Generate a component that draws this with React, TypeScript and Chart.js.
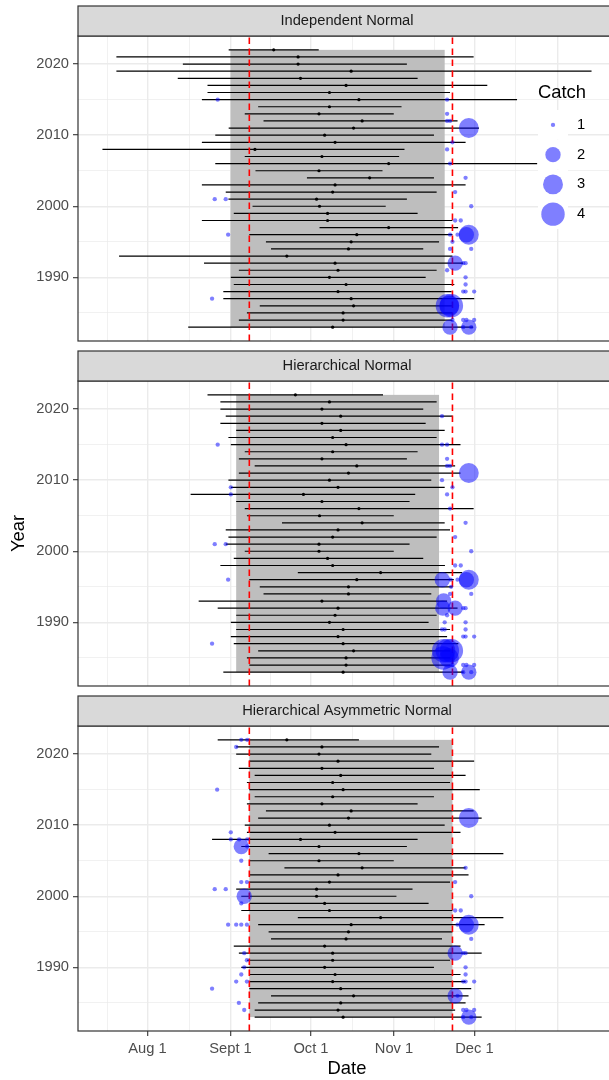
import React, { useEffect, useRef } from "react";
import { Chart, registerables } from "chart.js";

Chart.register(...registerables);

const FONT = "'Liberation Sans', Arial, Helvetica, sans-serif";
Chart.defaults.font.family = FONT;

// ---------------- data ----------------
const panelTitles = ["Independent Normal", "Hierarchical Normal", "Hierarchical Asymmetric Normal"];

const years = [
  2022, 2021, 2020, 2019, 2018, 2017, 2016, 2015, 2014, 2013,
  2012, 2011, 2010, 2009, 2008, 2007, 2006, 2005, 2004, 2003,
  2002, 2001, 2000, 1999, 1998, 1997, 1996, 1995, 1994, 1993,
  1992, 1991, 1990, 1989, 1988, 1987, 1986, 1985, 1984, 1983,
];

// days after Aug 1
const lower1 = [30.3, -11.6, 13.2, -11.6, 11.3, 22.4, 22.4, 20.3, 41.3, 36.3, 43.3, 30.3, 25.3, 20.3, -16.8, 36.3, 25.3, 40.3, 59.5, 20.3, 29.2, 30.2, 39.2, 32.2, 20.3, 64.2, 38.0, 44.2, 46.1, -10.6, 21.1, 34.1, 31.1, 32.2, 28.3, 28.3, 41.9, 37.1, 34.1, 15.2];
const median1 = [47.1, 56.2, 56.2, 76.0, 57.1, 74.1, 67.9, 78.9, 67.9, 64.0, 80.1, 76.9, 66.1, 70.0, 40.1, 65.1, 90.0, 64.0, 82.9, 70.0, 69.1, 63.1, 64.2, 67.2, 67.2, 90.0, 78.1, 76.0, 75.0, 52.0, 70.0, 71.1, 67.9, 74.1, 71.1, 76.0, 76.9, 73.0, 73.0, 69.1];
const upper1 = [63.9, 121.7, 96.8, 165.7, 100.8, 126.8, 112.9, 137.9, 94.8, 91.9, 115.7, 123.7, 106.9, 118.7, 95.9, 93.9, 145.4, 87.7, 106.9, 118.7, 107.9, 96.8, 88.9, 100.8, 113.8, 115.9, 113.8, 108.8, 102.9, 113.8, 117.8, 107.9, 103.8, 114.5, 113.5, 121.9, 113.8, 113.8, 113.8, 121.5];

const lower2 = [22.4, 27.2, 27.2, 29.2, 27.2, 33.1, 30.2, 31.1, 36.3, 34.1, 40.0, 34.1, 30.2, 31.1, 16.1, 33.1, 36.3, 37.1, 50.2, 29.2, 30.2, 29.2, 36.3, 32.2, 27.2, 56.1, 38.0, 41.9, 43.3, 19.1, 26.2, 33.1, 31.1, 33.1, 31.1, 32.2, 41.3, 37.1, 38.0, 28.3];
const median2 = [55.2, 67.9, 65.1, 72.1, 65.1, 72.1, 69.1, 74.1, 69.1, 65.1, 78.1, 75.0, 67.9, 71.1, 58.2, 65.1, 78.9, 64.2, 80.1, 71.1, 69.1, 64.0, 64.0, 67.2, 69.1, 87.0, 78.1, 75.0, 75.0, 65.1, 71.1, 70.0, 67.9, 73.0, 71.1, 73.0, 76.9, 74.1, 74.1, 73.0];
const upper2 = [87.9, 107.9, 102.9, 113.8, 103.8, 110.9, 107.9, 116.8, 100.8, 96.8, 114.8, 116.8, 105.9, 110.9, 99.9, 97.8, 121.7, 91.9, 110.9, 112.9, 107.9, 97.8, 91.9, 102.9, 111.0, 117.4, 114.3, 113.8, 105.9, 111.8, 115.7, 107.9, 104.9, 112.9, 111.8, 116.0, 113.0, 113.0, 113.0, 118.0];

const lower3 = [26.2, 33.1, 33.1, 38.0, 34.1, 40.0, 37.1, 38.0, 40.0, 37.1, 44.2, 41.3, 36.3, 37.1, 24.1, 35.0, 45.2, 38.0, 51.1, 38.0, 38.0, 33.1, 35.0, 38.0, 35.0, 56.1, 41.3, 45.2, 46.1, 32.2, 34.1, 37.1, 35.0, 38.0, 38.0, 38.0, 46.1, 41.3, 40.0, 40.0];
const median3 = [52.0, 65.1, 64.0, 71.1, 65.1, 72.1, 69.1, 73.0, 69.1, 65.1, 76.0, 75.0, 67.9, 70.0, 57.1, 64.0, 78.9, 64.0, 80.1, 71.1, 67.9, 63.1, 63.1, 66.1, 67.9, 87.0, 76.0, 75.0, 74.1, 66.1, 69.1, 69.1, 66.1, 70.0, 69.1, 72.1, 76.9, 72.1, 71.1, 73.0];
const upper3 = [78.9, 108.8, 105.9, 121.9, 106.9, 118.7, 112.9, 124.0, 106.9, 100.8, 121.7, 124.7, 110.9, 116.8, 100.8, 96.8, 132.8, 91.9, 118.7, 119.8, 112.9, 98.9, 92.9, 104.9, 113.8, 132.8, 125.8, 113.8, 109.9, 116.8, 124.7, 112.9, 106.9, 116.8, 118.7, 120.8, 119.8, 118.7, 114.8, 124.7];

// season window (grey band) per panel
const windowStart = [31.0, 33.1, 38.0];
const windowEnd = [110.9, 108.8, 113.8];
// red dashed reference dates
const refDays = [38.0, 113.8];

// catches shown per panel
const catchYear1 = [2015, 2015, 2013, 2012, 2012, 2011, 2009, 2008, 2006, 2004, 2002, 2001, 2001, 2000, 1998, 1998, 1996, 1996, 1996, 1996, 1996, 1995, 1994, 1994, 1992, 1992, 1992, 1991, 1990, 1989, 1988, 1988, 1988, 1987, 1986, 1986, 1986, 1984, 1984, 1984, 1984, 1983, 1983, 1983, 1983];
const catchDay1 = [26.2, 111.8, 111.8, 111.8, 112.9, 119.9, 113.8, 111.8, 112.9, 118.7, 114.8, 25.1, 29.2, 120.8, 114.8, 116.9, 30.1, 112.9, 115.7, 119.0, 119.9, 113.8, 112.9, 120.8, 114.8, 117.8, 118.7, 111.8, 118.7, 118.7, 117.8, 118.7, 121.9, 24.1, 111.9, 113.4, 112.6, 113.8, 117.8, 119.0, 121.9, 112.9, 117.8, 119.9, 120.8];
const catchCount1 = [1, 1, 1, 1, 1, 3, 1, 1, 1, 1, 1, 1, 1, 1, 1, 1, 1, 1, 1, 2, 3, 1, 1, 1, 2, 1, 1, 1, 1, 1, 1, 1, 1, 1, 4, 4, 3, 1, 1, 1, 1, 2, 1, 2, 1];

const catchYear2 = [2019, 2015, 2015, 2015, 2013, 2012, 2012, 2011, 2010, 2009, 2009, 2008, 2008, 2006, 2004, 2002, 2001, 2001, 2000, 1998, 1998, 1996, 1996, 1996, 1996, 1996, 1996, 1995, 1994, 1994, 1993, 1992, 1992, 1992, 1992, 1991, 1990, 1990, 1989, 1989, 1989, 1988, 1988, 1988, 1987, 1986, 1986, 1986, 1985, 1985, 1984, 1984, 1984, 1984, 1983, 1983, 1983, 1983];
const catchDay2 = [109.9, 26.2, 109.9, 111.8, 111.8, 111.8, 112.9, 119.9, 109.9, 31.1, 113.8, 31.1, 111.8, 112.9, 118.7, 114.8, 25.1, 29.2, 120.8, 114.8, 116.9, 30.1, 110.0, 113.1, 115.7, 119.0, 119.9, 113.3, 112.9, 120.8, 110.5, 110.2, 114.8, 117.8, 118.7, 111.8, 110.9, 118.7, 109.9, 110.9, 118.7, 117.8, 118.7, 121.9, 24.1, 110.5, 111.9, 113.4, 110.3, 112.5, 113.8, 117.8, 119.0, 121.9, 112.9, 117.8, 119.9, 120.8];
const catchCount2 = [1, 1, 1, 1, 1, 1, 1, 3, 1, 1, 1, 1, 1, 1, 1, 1, 1, 1, 1, 1, 1, 1, 2, 1, 1, 2, 3, 1, 1, 1, 2, 2, 2, 1, 1, 1, 1, 1, 1, 1, 1, 1, 1, 1, 1, 4, 4, 4, 4, 3, 1, 1, 1, 1, 2, 1, 2, 1];

const catchYear3 = [2022, 2022, 2021, 2015, 2011, 2009, 2008, 2008, 2008, 2007, 2007, 2005, 2004, 2002, 2002, 2002, 2001, 2001, 2000, 2000, 1999, 1998, 1998, 1996, 1996, 1996, 1996, 1996, 1996, 1996, 1994, 1992, 1992, 1992, 1992, 1991, 1990, 1990, 1989, 1989, 1988, 1988, 1988, 1988, 1988, 1987, 1986, 1986, 1985, 1984, 1984, 1984, 1984, 1983, 1983, 1983];
const catchDay3 = [35.0, 37.2, 33.1, 26.0, 119.9, 31.1, 31.1, 34.2, 37.2, 35.0, 37.2, 35.0, 118.7, 35.0, 37.1, 114.8, 25.1, 29.2, 36.1, 120.8, 35.0, 114.8, 116.9, 30.1, 33.1, 35.0, 37.1, 115.7, 119.0, 119.9, 120.8, 36.1, 114.8, 117.8, 118.7, 37.1, 36.1, 118.7, 35.0, 118.7, 33.1, 37.1, 117.8, 118.7, 121.9, 24.1, 114.8, 115.7, 34.1, 36.1, 117.8, 119.0, 121.9, 117.8, 119.9, 120.8];
const catchCount3 = [1, 1, 1, 1, 3, 1, 1, 1, 1, 2, 1, 1, 1, 1, 1, 1, 1, 1, 2, 1, 1, 1, 1, 1, 1, 1, 1, 1, 2, 3, 1, 1, 2, 1, 1, 1, 1, 1, 1, 1, 1, 1, 1, 1, 1, 1, 2, 1, 1, 1, 1, 1, 1, 1, 2, 1];

const catchLevels = [1, 2, 3, 4];

// axis breaks
const xBreakDays = [-30, 0, 31, 61, 92, 122, 153]; // Jul 1 .. Jan 1
const xTickDays = [0, 31, 61, 92, 122];
const xTickLabels = ["Aug 1", "Sept 1", "Oct 1", "Nov 1", "Dec 1"];
const yBreaks = [1990, 2000, 2010, 2020];
const yTickLabels = ["1990", "2000", "2010", "2020"];

const panelLower = [lower1, lower2, lower3];
const panelMedian = [median1, median2, median3];
const panelUpper = [upper1, upper2, upper3];
const panelCatchYear = [catchYear1, catchYear2, catchYear3];
const panelCatchDay = [catchDay1, catchDay2, catchDay3];
const panelCatchCount = [catchCount1, catchCount2, catchCount3];

// ---------------- scale limits (ggplot-style 5% expansion) ----------------
const dataMin = Math.min(...lower1, ...lower2, ...lower3);
const dataMax = Math.max(...upper1, ...upper2, ...upper3);
const X_MIN = dataMin - 0.05 * (dataMax - dataMin);
const X_MAX = dataMax + 0.05 * (dataMax - dataMin);
const yLo = Math.min(...years);
const yHi = Math.max(...years);
const Y_MIN = yLo - 0.05 * (yHi - yLo);
const Y_MAX = yHi + 0.05 * (yHi - yLo);

const xMinor = xBreakDays.slice(1).map((d, i) => (d + xBreakDays[i]) / 2);
const xGrid = [...xBreakDays, ...xMinor].filter((v) => v > X_MIN && v < X_MAX).sort((a, b) => a - b);
const yStep = yBreaks[1] - yBreaks[0];
const yMinor = [...yBreaks.map((b) => b - yStep / 2), yBreaks[yBreaks.length - 1] + yStep / 2];
const yGrid = [...yBreaks, ...yMinor].filter((v) => v > Y_MIN && v < Y_MAX).sort((a, b) => a - b);

function sizeRadius(c: number) {
  const s = 1 + 5 * Math.sqrt((c - 1) / 3);
  return 0.25 + 1.91 * s;
}

const TEXT_SIZE = 14.7;
const TITLE_SIZE = 18.4;
const CATCH_COLOR = "rgba(0,0,255,0.5)";

function makePlugin(idx: number, showLegend: boolean) {
  return {
    id: "panelDecor" + idx,
    beforeDatasetsDraw(chart: any) {
      const { ctx, scales } = chart;
      const x = scales.x;
      const y = scales.y;
      const x0 = x.getPixelForValue(windowStart[idx]);
      const x1 = x.getPixelForValue(windowEnd[idx]);
      const y0 = y.getPixelForValue(yHi);
      const y1 = y.getPixelForValue(yLo);
      ctx.save();
      ctx.fillStyle = "#BEBEBE";
      ctx.fillRect(x0, y0, x1 - x0, y1 - y0);
      ctx.restore();
    },
    afterDraw(chart: any) {
      const { ctx, chartArea: a } = chart;
      ctx.save();
      ctx.strokeStyle = "#333333";
      ctx.lineWidth = 1.2;
      ctx.strokeRect(a.left, a.top, a.right - a.left, a.bottom - a.top);
      const stripH = 30;
      ctx.fillStyle = "#D9D9D9";
      ctx.fillRect(a.left, a.top - stripH, a.right - a.left, stripH);
      ctx.strokeRect(a.left, a.top - stripH, a.right - a.left, stripH);
      ctx.fillStyle = "#1A1A1A";
      ctx.font = `${TEXT_SIZE}px ${FONT}`;
      ctx.textAlign = "center";
      ctx.textBaseline = "middle";
      ctx.fillText(panelTitles[idx], (a.left + a.right) / 2, a.top - stripH / 2);

      if (showLegend) {
        ctx.textAlign = "left";
        ctx.fillStyle = "#000000";
        ctx.font = `${TITLE_SIZE}px ${FONT}`;
        ctx.fillText("Catch", 538, 93);
        const keyTop = 110;
        const keyH = 29.75;
        const keyX = 538;
        const keyW = 30;
        catchLevels.forEach((lv, i) => {
          const cy = keyTop + keyH * (i + 0.5);
          ctx.fillStyle = "#FFFFFF";
          ctx.fillRect(keyX, keyTop + keyH * i, keyW, keyH);
          ctx.fillStyle = CATCH_COLOR;
          ctx.beginPath();
          ctx.arc(keyX + keyW / 2, cy, sizeRadius(lv), 0, Math.PI * 2);
          ctx.fill();
          ctx.fillStyle = "#000000";
          ctx.font = `${TEXT_SIZE}px ${FONT}`;
          ctx.fillText(String(lv), 577, cy);
        });
      }
      ctx.restore();
    },
  };
}

type PanelProps = { idx: number; top: number; height: number; showX: boolean; showYTitle: boolean; showLegend: boolean };

function Panel({ idx, top, height, showX, showYTitle, showLegend }: PanelProps) {
  const ref = useRef<HTMLCanvasElement>(null);
  useEffect(() => {
    const lo = panelLower[idx];
    const md = panelMedian[idx];
    const hi = panelUpper[idx];
    const intervals: any[] = [];
    years.forEach((yr, i) => {
      intervals.push({ x: lo[i], y: yr }, { x: hi[i], y: yr }, { x: hi[i], y: null });
    });
    const medians = years.map((yr, i) => ({ x: md[i], y: yr }));
    const refs: any[] = [];
    refDays.forEach((d) => {
      refs.push({ x: d, y: Y_MIN }, { x: d, y: Y_MAX }, { x: d, y: null });
    });
    const cy = panelCatchYear[idx];
    const cd = panelCatchDay[idx];
    const cc = panelCatchCount[idx];
    const catches = cy.map((yr, i) => ({ x: cd[i], y: yr, c: cc[i] }));

    const xAxisH = showX ? height - 341 : 0;
    const chart = new Chart(ref.current as HTMLCanvasElement, {
      type: "scatter",
      data: {
        datasets: [
          {
            type: "scatter",
            data: catches,
            pointRadius: (ctx: any) => sizeRadius(ctx.raw ? ctx.raw.c : 1),
            pointHoverRadius: (ctx: any) => sizeRadius(ctx.raw ? ctx.raw.c : 1),
            pointBackgroundColor: CATCH_COLOR,
            pointBorderWidth: 0,
            pointBorderColor: "rgba(0,0,0,0)",
          } as any,
          {
            type: "line",
            data: refs,
            showLine: true,
            borderColor: "#FF0000",
            borderWidth: 1.6,
            borderDash: [6.5, 4.5],
            pointRadius: 0,
            spanGaps: false,
            fill: false,
          } as any,
          {
            type: "scatter",
            data: medians,
            pointRadius: 1.6,
            pointBackgroundColor: "#000000",
            pointBorderWidth: 0,
          } as any,
          {
            type: "line",
            data: intervals,
            showLine: true,
            borderColor: "#000000",
            borderWidth: 1.2,
            pointRadius: 0,
            spanGaps: false,
            fill: false,
          } as any,
        ],
      },
      options: {
        responsive: false,
        animation: false,
        devicePixelRatio: 1,
        events: [],
        layout: { autoPadding: false, padding: { left: 0, right: 4, top: 36, bottom: showX ? 0 : 20 } },
        plugins: { legend: { display: false }, tooltip: { enabled: false } },
        scales: {
          x: {
            type: "linear",
            min: X_MIN,
            max: X_MAX,
            afterBuildTicks: (s: any) => {
              s.ticks = xGrid.map((v) => ({ value: v }));
            },
            afterFit: (s: any) => {
              s.height = xAxisH;
            },
            border: { display: false },
            grid: {
              color: "#EBEBEB",
              lineWidth: (ctx: any) => (xBreakDays.includes(ctx.tick?.value) ? 1.4 : 0.7),
              drawTicks: showX,
              tickLength: 5,
              tickWidth: 1.1,
              tickColor: (ctx: any) => (xTickDays.includes(ctx.tick?.value) ? "#333333" : "rgba(0,0,0,0)"),
            },
            ticks: {
              display: showX,
              autoSkip: false,
              maxRotation: 0,
              padding: 4,
              color: "#4D4D4D",
              font: { size: TEXT_SIZE, family: FONT },
              callback: (v: any) => {
                const i = xTickDays.indexOf(Number(v));
                return i >= 0 ? xTickLabels[i] : "";
              },
            },
            title: {
              display: showX,
              text: "Date",
              color: "#000000",
              font: { size: TITLE_SIZE, family: FONT },
              padding: { top: 0, bottom: 0 },
            },
          },
          y: {
            type: "linear",
            min: Y_MIN,
            max: Y_MAX,
            afterBuildTicks: (s: any) => {
              s.ticks = yGrid.map((v) => ({ value: v }));
            },
            afterFit: (s: any) => {
              s.width = 78;
            },
            border: { display: false },
            grid: {
              color: "#EBEBEB",
              lineWidth: (ctx: any) => (yBreaks.includes(ctx.tick?.value) ? 1.4 : 0.7),
              drawTicks: true,
              tickLength: 5,
              tickWidth: 1.1,
              tickColor: (ctx: any) => (yBreaks.includes(ctx.tick?.value) ? "#333333" : "rgba(0,0,0,0)"),
            },
            ticks: {
              autoSkip: false,
              padding: 4,
              color: "#4D4D4D",
              font: { size: TEXT_SIZE, family: FONT },
              callback: (v: any) => {
                const i = yBreaks.indexOf(Number(v));
                return i >= 0 ? yTickLabels[i] : "";
              },
            },
            title: {
              display: showYTitle,
              text: "Year",
              color: "#000000",
              font: { size: TITLE_SIZE, family: FONT },
              padding: { top: 8, bottom: 0 },
            },
          },
        },
      } as any,
      plugins: [makePlugin(idx, showLegend)],
    });
    return () => chart.destroy();
  }, [idx, height, showX, showYTitle, showLegend]);

  return (
    <canvas
      ref={ref}
      width={620}
      height={height}
      style={{ position: "absolute", left: 0, top, width: 620, height }}
    />
  );
}

export default function App() {
  return (
    <div
      style={{
        position: "absolute",
        left: 0,
        top: 0,
        width: 609,
        height: 1080,
        overflow: "hidden",
        background: "#FFFFFF",
      }}
    >
      <Panel idx={0} top={0} height={361} showX={false} showYTitle={false} showLegend={true} />
      <Panel idx={1} top={345} height={361} showX={false} showYTitle={true} showLegend={false} />
      <Panel idx={2} top={690} height={390} showX={true} showYTitle={false} showLegend={false} />
    </div>
  );
}
